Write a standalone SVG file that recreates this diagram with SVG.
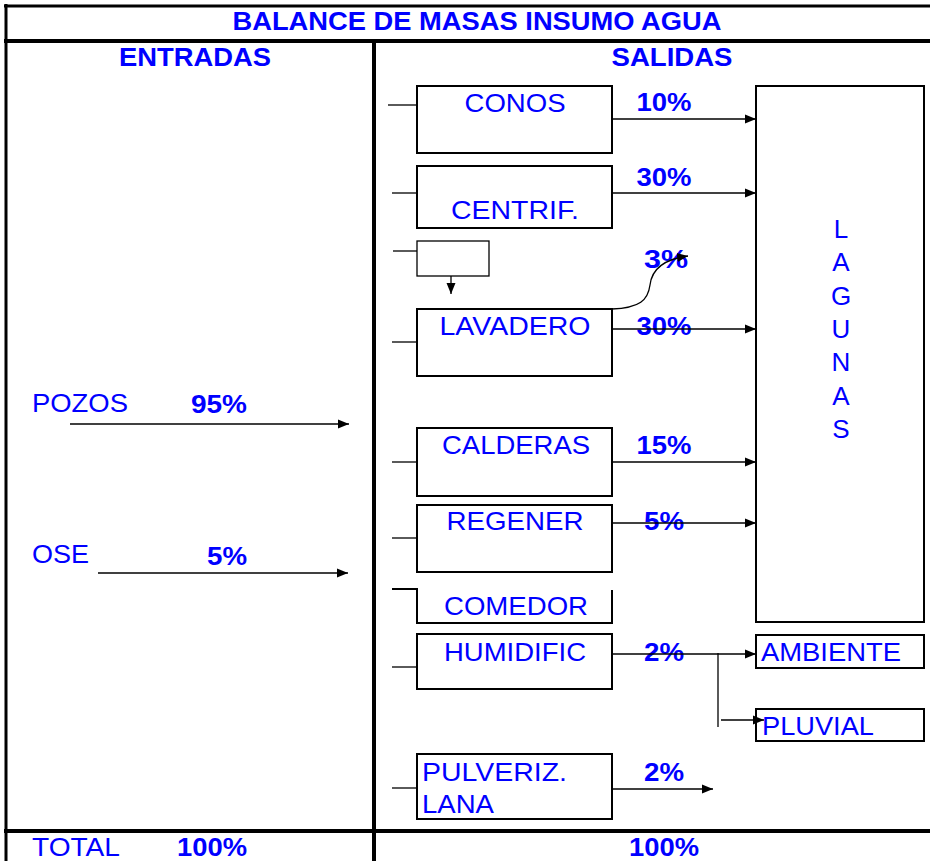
<svg xmlns="http://www.w3.org/2000/svg" width="930" height="861" viewBox="0 0 930 861">
<style>
.t{font-family:"Liberation Sans",Arial,sans-serif;font-size:26px;fill:#0000FF}
.b{font-weight:bold}
.m{text-anchor:middle}
.e{text-anchor:end}
.box{fill:#FFFFFF;stroke:#000;stroke-width:2}
.grid{stroke:#000;fill:none}
.c{stroke:#000;stroke-width:1.3;fill:none}
</style>
<defs>
<marker id="ah" markerUnits="userSpaceOnUse" markerWidth="12" markerHeight="10" refX="11" refY="5" orient="auto">
<path d="M0,0.5 L11,5 L0,9.5 Z" fill="#000"/>
</marker>
</defs>
<rect width="930" height="861" fill="#FFFFFF"/>
<g id="table">
<line class="grid" x1="4" y1="6" x2="930" y2="6" stroke-width="3"/>
<line class="grid" x1="4" y1="41" x2="930" y2="41" stroke-width="4"/>
<line class="grid" x1="6" y1="4" x2="6" y2="861" stroke-width="3"/>
<line class="grid" x1="374" y1="41" x2="374" y2="861" stroke-width="4"/>
<line class="grid" x1="4" y1="831" x2="930" y2="831" stroke-width="4"/>
<text class="t b m" x="477" y="30" textLength="489" lengthAdjust="spacingAndGlyphs">BALANCE DE MASAS INSUMO AGUA</text>
<text class="t b m" x="195" y="66" textLength="152" lengthAdjust="spacingAndGlyphs">ENTRADAS</text>
<text class="t b m" x="672" y="66" textLength="121" lengthAdjust="spacingAndGlyphs">SALIDAS</text>
</g>
<g id="pozos">
<text class="t" x="32" y="412" textLength="96" lengthAdjust="spacingAndGlyphs">POZOS</text>
<text class="t b e" x="247" y="413" textLength="56" lengthAdjust="spacingAndGlyphs">95%</text>
</g>
<g id="ose">
<text class="t" x="32" y="563" textLength="57" lengthAdjust="spacingAndGlyphs">OSE</text>
<text class="t b e" x="247" y="565" textLength="40" lengthAdjust="spacingAndGlyphs">5%</text>
</g>
<g id="total">
<text class="t" x="32" y="856" textLength="88" lengthAdjust="spacingAndGlyphs">TOTAL</text>
<text class="t b e" x="247" y="856" textLength="70" lengthAdjust="spacingAndGlyphs">100%</text>
<text class="t b m" x="664" y="856" textLength="70" lengthAdjust="spacingAndGlyphs">100%</text>
</g>
<g id="conos">
<rect class="box" x="417" y="86" width="195" height="67"/>
<text class="t m" x="515" y="112" textLength="101" lengthAdjust="spacingAndGlyphs">CONOS</text>
</g>
<g id="centrif">
<rect class="box" x="417" y="166" width="195" height="62"/>
<text class="t m" x="515" y="219" textLength="128" lengthAdjust="spacingAndGlyphs">CENTRIF.</text>
</g>
<g id="small">
<rect x="417" y="241" width="72" height="35" fill="#FFFFFF" stroke="#000" stroke-width="1.3"/>
</g>
<g id="lavadero">
<rect class="box" x="417" y="309" width="195" height="67"/>
<text class="t m" x="515" y="335" textLength="151" lengthAdjust="spacingAndGlyphs">LAVADERO</text>
</g>
<g id="calderas">
<rect class="box" x="417" y="428" width="195" height="68"/>
<text class="t m" x="516" y="454" textLength="148" lengthAdjust="spacingAndGlyphs">CALDERAS</text>
</g>
<g id="regener">
<rect class="box" x="417" y="505" width="195" height="67"/>
<text class="t m" x="515" y="530" textLength="137" lengthAdjust="spacingAndGlyphs">REGENER</text>
</g>
<g id="comedor">
<path d="M392,589 H417 V623 H612 V590" fill="none" stroke="#000" stroke-width="2"/>
<text class="t m" x="516" y="615" textLength="144" lengthAdjust="spacingAndGlyphs">COMEDOR</text>
</g>
<g id="humidific">
<rect class="box" x="417" y="634" width="195" height="55"/>
<text class="t m" x="515" y="661" textLength="142" lengthAdjust="spacingAndGlyphs">HUMIDIFIC</text>
</g>
<g id="pulveriz">
<rect class="box" x="417" y="754" width="195" height="65"/>
<text class="t" x="422" y="781" textLength="145" lengthAdjust="spacingAndGlyphs">PULVERIZ.</text>
<text class="t" x="422" y="813" textLength="72" lengthAdjust="spacingAndGlyphs">LANA</text>
</g>
<g id="lagunas">
<rect class="box" x="756" y="86" width="168" height="536"/>
<text class="t m" x="841" y="238">L</text>
<text class="t m" x="841" y="271">A</text>
<text class="t m" x="841" y="305">G</text>
<text class="t m" x="841" y="338">U</text>
<text class="t m" x="841" y="371">N</text>
<text class="t m" x="841" y="405">A</text>
<text class="t m" x="841" y="438">S</text>
</g>
<g id="ambiente">
<rect class="box" x="756" y="635" width="168" height="33"/>
<text class="t" x="761" y="661" textLength="140" lengthAdjust="spacingAndGlyphs">AMBIENTE</text>
</g>
<g id="pluvial">
<rect class="box" x="756" y="709" width="168" height="32"/>
<text class="t" x="762" y="735" textLength="112" lengthAdjust="spacingAndGlyphs">PLUVIAL</text>
</g>
<g id="labels">
<text class="t b m" x="664" y="111" textLength="55" lengthAdjust="spacingAndGlyphs">10%</text>
<text class="t b m" x="664" y="186" textLength="55" lengthAdjust="spacingAndGlyphs">30%</text>
<text class="t b m" x="666" y="268" textLength="44" lengthAdjust="spacingAndGlyphs">3%</text>
<text class="t b m" x="664" y="335" textLength="55" lengthAdjust="spacingAndGlyphs">30%</text>
<text class="t b m" x="664" y="454" textLength="55" lengthAdjust="spacingAndGlyphs">15%</text>
<text class="t b m" x="664" y="530" textLength="40" lengthAdjust="spacingAndGlyphs">5%</text>
<text class="t b m" x="664" y="661" textLength="40" lengthAdjust="spacingAndGlyphs">2%</text>
<text class="t b m" x="664" y="781" textLength="40" lengthAdjust="spacingAndGlyphs">2%</text>
</g>
<g id="connectors">
<line class="c" x1="70" y1="424" x2="349" y2="424" marker-end="url(#ah)"/>
<line class="c" x1="98" y1="573" x2="348" y2="573" marker-end="url(#ah)"/>
<line class="c" x1="388" y1="105" x2="417" y2="105"/>
<line class="c" x1="392" y1="193" x2="417" y2="193"/>
<line class="c" x1="393" y1="251" x2="417" y2="251"/>
<line class="c" x1="451" y1="276" x2="451" y2="294" marker-end="url(#ah)"/>
<line class="c" x1="392" y1="342" x2="417" y2="342"/>
<line class="c" x1="392" y1="462" x2="417" y2="462"/>
<line class="c" x1="392" y1="538" x2="417" y2="538"/>
<line class="c" x1="392" y1="667" x2="417" y2="667"/>
<line class="c" x1="392" y1="788" x2="417" y2="788"/>
<line class="c" x1="612" y1="119" x2="756" y2="119" marker-end="url(#ah)"/>
<line class="c" x1="612" y1="193" x2="756" y2="193" marker-end="url(#ah)"/>
<path class="c" d="M612,309 C640,308 648,300 650,285 C652,268 665,259 688,256" marker-end="url(#ah)"/>
<line class="c" x1="612" y1="329" x2="756" y2="329" marker-end="url(#ah)"/>
<line class="c" x1="612" y1="462" x2="756" y2="462" marker-end="url(#ah)"/>
<line class="c" x1="612" y1="523" x2="756" y2="523" marker-end="url(#ah)"/>
<line class="c" x1="612" y1="654" x2="756" y2="654" marker-end="url(#ah)"/>
<line class="c" x1="718" y1="653" x2="718" y2="727"/>
<line class="c" x1="721" y1="720" x2="764" y2="720" marker-end="url(#ah)"/>
<line class="c" x1="612" y1="789" x2="713" y2="789" marker-end="url(#ah)"/>
</g>
</svg>
